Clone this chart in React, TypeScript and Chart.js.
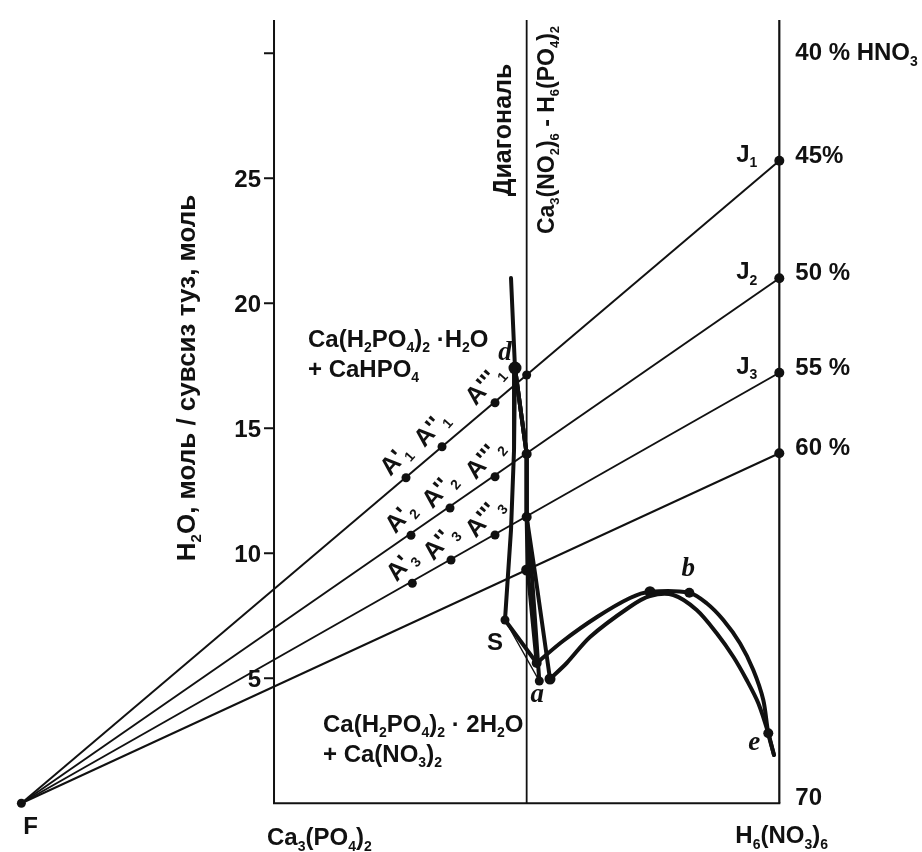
import React, { useEffect, useRef } from 'react';
import { Chart, registerables } from 'chart.js';

Chart.register(...registerables);

// ---------------- data ----------------
const F_X = -50;
const F_Y = 0;
const SALT_X = 0;          // Ca3(PO4)2 axis
const DIAGONAL_X = 50;     // diagonal Ca3(NO2)6 - H6(PO4)2
const ACID_X = 100;        // H6(NO3)6 axis
const AXIS_TOP = 31.33;

const Y_TICKS = [5, 10, 15, 20, 25, 30];
const Y_TICK_LABELS = ['5', '10', '15', '20', '25', ''];

// end points of the rays from F on the acid axis (J1, J2, J3, 60 %)
const RAY_END_Y = [25.7, 21.0, 17.22, 14.0];
const RAY_NAMES = ['J_1', 'J_2', 'J_3', ''];

const HNO3_LABELS = ['40 % HNO_3', '45%', '50 %', '55 %', '60 %', '70'];
const HNO3_VALUES = [30, 25.7, 21.0, 17.22, 14.0, 0];

// A points on the rays
const A_LABELS = ["A'_1", "A''_1", "A'''_1", "A'_2", "A''_2", "A'''_2", "A'_3", "A''_3", "A'''_3"];
const A_X = [26.12, 33.25, 43.74, 27.11, 34.83, 43.74, 27.37, 35.03, 43.74];
const A_Y = [13.02, 14.26, 16.02, 10.72, 11.81, 13.06, 8.8, 9.73, 10.73];

// ray / diagonal intersections
const DIAG_Y = [17.13, 13.97, 11.45, 9.33];

// thick curves
const CURVE_A_UP_X = [46.9, 47.69, 47.5, 46.9, 45.71, 51.99];
const CURVE_A_UP_Y = [21.01, 17.41, 14.13, 10.93, 7.33, 5.61];
const CURVE_A_LOW_X = [51.99, 57.19, 63.92, 70.45, 74.41, 82.19, 85.63, 88.92, 92.22, 94.85, 96.83, 97.82, 98.95];
const CURVE_A_LOW_Y = [5.61, 6.49, 7.45, 8.21, 8.46, 8.42, 8.0, 7.33, 6.4, 5.33, 4.13, 2.8, 1.93];
const CURVE_B_X = [47.69, 49.08, 50.0, 50.0, 50.2, 51.99];
const CURVE_B_Y = [17.41, 15.33, 13.97, 11.45, 9.33, 5.61];
const CURVE_C_X = [47.69, 49.08, 50.0, 50.0, 51.0, 52.5];
const CURVE_C_Y = [17.41, 15.33, 13.97, 11.45, 9.21, 4.89];
const CURVE_D_UP_X = [47.69, 49.08, 50.0, 50.0, 51.65, 54.62];
const CURVE_D_UP_Y = [17.41, 15.33, 13.97, 11.45, 9.21, 4.97];
const CURVE_D_ARC_X = [54.62, 57.93, 62.54, 70.45, 74.41, 79.02, 83.65, 87.61, 90.9, 93.55, 95.85, 97.82, 98.95];
const CURVE_D_ARC_Y = [4.97, 5.61, 6.65, 7.86, 8.29, 8.33, 7.73, 6.8, 5.86, 4.93, 4.0, 2.8, 1.93];
const THIN_SA_X = [45.71, 52.5];
const THIN_SA_Y = [7.33, 4.89];

// named special points
const SPECIAL_NAMES = ['d', 'S', 'P1', 'a', 'P2', 'b1', 'b2', 'e'];
const SPECIAL_X = [47.69, 45.71, 51.99, 52.5, 54.62, 74.41, 82.19, 97.82];
const SPECIAL_Y = [17.41, 7.33, 5.61, 4.89, 4.97, 8.46, 8.42, 2.8];
const SPECIAL_R = [6.5, 4.5, 5, 4.5, 5.5, 5.5, 5, 5];

// ---------------- helpers ----------------
const INK = '#111111';
const SANS = '"Liberation Sans", Arial, Helvetica, sans-serif';
const SERIF = '"Liberation Serif", "Times New Roman", serif';

const pts = (xs: number[], ys: number[]) => xs.map((x, i) => ({ x, y: ys[i] }));

type Seg = { t: string; sub: boolean };
function parseRich(s: string): Seg[] {
  const segs: Seg[] = [];
  let cur = '';
  for (let i = 0; i < s.length; i++) {
    if (s[i] === '_' && i + 1 < s.length) {
      if (cur) { segs.push({ t: cur, sub: false }); cur = ''; }
      segs.push({ t: s[i + 1], sub: true });
      i++;
    } else cur += s[i];
  }
  if (cur) segs.push({ t: cur, sub: false });
  return segs;
}

function drawRich(
  ctx: CanvasRenderingContext2D, s: string, x: number, y: number, size: number,
  align: 'left' | 'center' | 'right' = 'left', subScale = 0.58, subDy = 0.22
) {
  const segs = parseRich(s);
  const main = `bold ${size}px ${SANS}`;
  const sub = `bold ${Math.round(size * subScale)}px ${SANS}`;
  let w = 0;
  const ws = segs.map((g) => { ctx.font = g.sub ? sub : main; const m = ctx.measureText(g.t).width; w += m; return m; });
  let cx = align === 'left' ? x : align === 'center' ? x - w / 2 : x - w;
  ctx.textAlign = 'left';
  ctx.textBaseline = 'alphabetic';
  segs.forEach((g, i) => {
    ctx.font = g.sub ? sub : main;
    ctx.fillText(g.t, cx, g.sub ? y + size * subDy : y);
    cx += ws[i];
  });
}

function drawRotated(ctx: CanvasRenderingContext2D, s: string, cx: number, cy: number, angle: number, size: number, baselineShift = 0) {
  ctx.save();
  ctx.translate(cx, cy);
  ctx.rotate(angle);
  drawRich(ctx, s, 0, baselineShift, size, 'center');
  ctx.restore();
}

const framePlugin = {
  id: 'frame',
  beforeDatasetsDraw(chart: any) {
    const { ctx, scales } = chart;
    const xs = scales.x, ys = scales.y;
    const px = (v: number) => xs.getPixelForValue(v);
    const py = (v: number) => ys.getPixelForValue(v);
    ctx.save();
    ctx.strokeStyle = INK;
    ctx.lineCap = 'butt';
    const line = (x1: number, y1: number, x2: number, y2: number, w: number) => {
      ctx.lineWidth = w;
      ctx.beginPath();
      ctx.moveTo(x1, y1);
      ctx.lineTo(x2, y2);
      ctx.stroke();
    };
    line(px(SALT_X), py(AXIS_TOP), px(SALT_X), py(0), 2);
    line(px(SALT_X) - 1, py(0), px(ACID_X) + 1, py(0), 2);
    line(px(ACID_X), py(AXIS_TOP), px(ACID_X), py(0), 2.2);
    line(px(DIAGONAL_X), py(AXIS_TOP), px(DIAGONAL_X), py(0), 1.8);
    Y_TICKS.forEach((t) => line(px(SALT_X) - 10, py(t), px(SALT_X), py(t), 2));
    ctx.restore();
  },
};

const textPlugin = {
  id: 'texts',
  afterDatasetsDraw(chart: any) {
    const { ctx, scales } = chart;
    const xs = scales.x, ys = scales.y;
    const px = (v: number) => xs.getPixelForValue(v);
    const py = (v: number) => ys.getPixelForValue(v);
    ctx.save();
    ctx.fillStyle = INK;

    // y tick labels
    Y_TICKS.forEach((t, i) => {
      if (Y_TICK_LABELS[i]) drawRich(ctx, Y_TICK_LABELS[i], px(SALT_X) - 13, py(t) + 8.5, 24, 'right');
    });

    // y axis title
    drawRotated(ctx, 'H_2O, моль / сувсиз туз, моль', 195, 378, -Math.PI / 2, 26, 0);

    // diagonal titles
    drawRotated(ctx, 'Диагональ', px(DIAGONAL_X) - 16, 130, -Math.PI / 2, 25, 0);
    drawRotated(ctx, 'Ca_3(NO_2)_6 - H_6(PO_4)_2', px(DIAGONAL_X) + 27, 130, -Math.PI / 2, 23, 0);

    // bottom labels
    drawRich(ctx, 'F', px(F_X) + 2, py(F_Y) + 31, 24, 'left');
    drawRich(ctx, 'Ca_3(PO_4)_2', px(SALT_X) - 7, py(0) + 42, 24, 'left');
    drawRich(ctx, 'H_6(NO_3)_6', px(ACID_X) - 44, py(0) + 40, 24, 'left');

    // HNO3 concentration labels on the right
    HNO3_LABELS.forEach((s, i) => {
      const off = i === 0 ? 7 : 2;
      drawRich(ctx, s, px(ACID_X) + 16, py(HNO3_VALUES[i]) + off, 24, 'left');
    });

    // J labels
    RAY_NAMES.forEach((s, i) => {
      if (s) drawRich(ctx, s, px(ACID_X) - 22, py(RAY_END_Y[i]) + 1, 24, 'right');
    });

    // A labels, rotated
    A_LABELS.forEach((s, i) => {
      drawRotated(ctx, s, px(A_X[i]) - 11, py(A_Y[i]) - 18, -0.85, 25, 8);
    });

    // field labels
    drawRich(ctx, 'Ca(H_2PO_4)_2 ·H_2O', 308, 347, 24, 'left');
    drawRich(ctx, '+ CaHPO_4', 308, 377, 24, 'left');
    drawRich(ctx, 'Ca(H_2PO_4)_2 · 2H_2O', 323, 732, 24, 'left');
    drawRich(ctx, '+ Ca(NO_3)_2', 323, 762, 24, 'left');

    // S
    drawRich(ctx, 'S', px(SPECIAL_X[1]) - 10, py(SPECIAL_Y[1]) + 30, 24, 'center');

    // italic point names
    ctx.font = `italic bold 27px ${SERIF}`;
    ctx.textAlign = 'center';
    ctx.textBaseline = 'alphabetic';
    ctx.fillText('d', px(SPECIAL_X[0]) - 10, py(SPECIAL_Y[0]) - 8);
    ctx.fillText('a', px(SPECIAL_X[3]) - 2, py(SPECIAL_Y[3]) + 21);
    ctx.fillText('b', px(SPECIAL_X[6]) - 1, py(SPECIAL_Y[6]) - 17);
    ctx.fillText('e', px(SPECIAL_X[7]) - 14, py(SPECIAL_Y[7]) + 17);

    ctx.restore();
  },
};

export default function App() {
  const ref = useRef<HTMLCanvasElement | null>(null);

  useEffect(() => {
    const canvas = ref.current;
    if (!canvas) return;

    const thick = (data: { x: number; y: number }[], tension = 0) => ({
      data, showLine: true, borderColor: INK, borderWidth: 4, pointRadius: 0,
      tension, borderJoinStyle: 'round' as const, borderCapStyle: 'round' as const,
    });
    const dots = (data: { x: number; y: number }[], r: number | number[]) => ({
      data, showLine: false, pointRadius: r, pointBackgroundColor: INK,
      pointBorderColor: INK, pointBorderWidth: 0,
    });

    const datasets: any[] = [];
    // rays from F
    RAY_END_Y.forEach((yEnd) => {
      datasets.push({
        data: [{ x: F_X, y: F_Y }, { x: ACID_X, y: yEnd }],
        showLine: true, borderColor: INK, borderWidth: 2, pointRadius: 0,
      });
    });
    // thin S-a line
    datasets.push({ data: pts(THIN_SA_X, THIN_SA_Y), showLine: true, borderColor: INK, borderWidth: 1.5, pointRadius: 0 });
    // thick curves
    datasets.push(thick(pts(CURVE_A_UP_X, CURVE_A_UP_Y)));
    datasets.push(thick(pts(CURVE_B_X, CURVE_B_Y)));
    datasets.push(thick(pts(CURVE_C_X, CURVE_C_Y)));
    datasets.push(thick(pts(CURVE_D_UP_X, CURVE_D_UP_Y)));
    datasets.push(thick(pts(CURVE_A_LOW_X, CURVE_A_LOW_Y), 0.3));
    datasets.push(thick(pts(CURVE_D_ARC_X, CURVE_D_ARC_Y), 0.3));
    // points
    datasets.push(dots([{ x: F_X, y: F_Y }], 4.5));
    datasets.push(dots(RAY_END_Y.map((y) => ({ x: ACID_X, y })), 5));
    datasets.push(dots(DIAG_Y.map((y) => ({ x: DIAGONAL_X, y })), [4.5, 5, 5, 5.5]));
    datasets.push(dots(pts(A_X, A_Y), 4.5));
    datasets.push(dots(pts(SPECIAL_X, SPECIAL_Y), SPECIAL_R));

    const chart = new Chart(canvas, {
      type: 'scatter',
      data: { datasets },
      options: {
        animation: false,
        responsive: false,
        events: [],
        layout: { padding: 0, autoPadding: false },
        plugins: { legend: { display: false }, tooltip: { enabled: false } },
        scales: {
          x: { type: 'linear', min: -54.23, max: 128.24, display: false },
          y: { type: 'linear', min: -1.95, max: 32.13, display: false },
        },
      },
      plugins: [framePlugin, textPlugin],
    } as any);

    return () => chart.destroy();
  }, []);

  return (
    <div style={{ position: 'fixed', left: 0, top: 0, width: 922, height: 852, background: '#ffffff' }}>
      <canvas ref={ref} width={922} height={852} style={{ display: 'block', width: 922, height: 852 }} />
    </div>
  );
}
